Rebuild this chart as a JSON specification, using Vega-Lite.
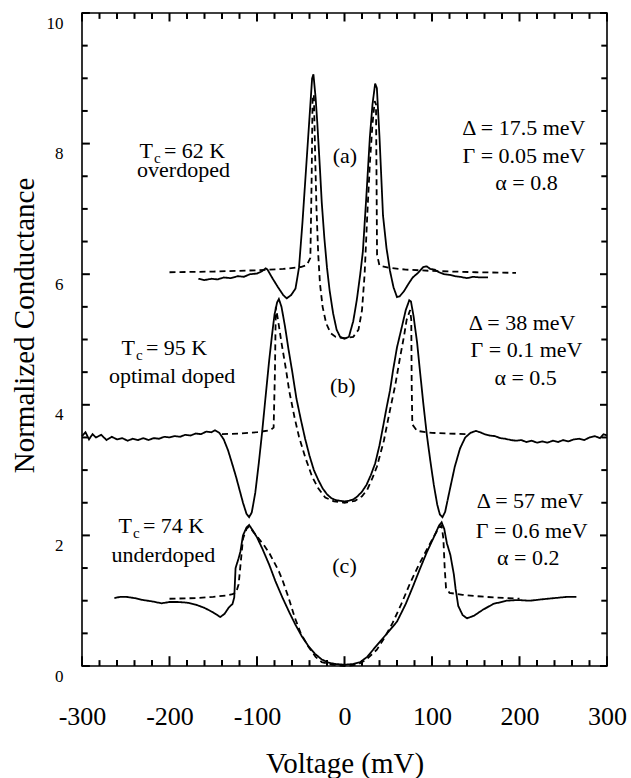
{
"$schema": "https://vega.github.io/schema/vega-lite/v6.json",
"width": 525, "height": 653,
"autosize": {"type": "none"},
"padding": {"left": 82, "top": 13, "right": 24, "bottom": 112},
"background": "white",
"config": {
 "view": {"stroke": "black", "strokeWidth": 1.6},
 "axis": {"domain": false, "ticks": false, "tickSize": 0, "grid": false, "labelFont": "Liberation Serif", "labelColor": "black", "titleFont": "Liberation Serif", "titleFontWeight": "normal", "titleColor": "black"},
 "text": {"font": "Liberation Serif", "fontSize": 22, "color": "black", "baseline": "alphabetic"}
},
"datasets": {
 "xmaj": [{"V":-300},{"V":-200},{"V":-100},{"V":0},{"V":100},{"V":200},{"V":300}],
 "xmin": [{"V":-280},{"V":-260},{"V":-240},{"V":-220},{"V":-180},{"V":-160},{"V":-140},{"V":-120},{"V":-80},{"V":-60},{"V":-40},{"V":-20},{"V":20},{"V":40},{"V":60},{"V":80},{"V":120},{"V":140},{"V":160},{"V":180},{"V":220},{"V":240},{"V":260},{"V":280}],
 "ymaj": [{"G":0},{"G":2},{"G":4},{"G":6},{"G":8},{"G":10}],
 "ymin": [{"G":0.5},{"G":1},{"G":1.5},{"G":2.5},{"G":3},{"G":3.5},{"G":4.5},{"G":5},{"G":5.5},{"G":6.5},{"G":7},{"G":7.5},{"G":8.5},{"G":9},{"G":9.5}],
 "curves": [
  {"c":"a-exp","k":"exp","V":-167,"G":5.93},{"c":"a-exp","k":"exp","V":-160,"G":5.91},{"c":"a-exp","k":"exp","V":-152,"G":5.93},{"c":"a-exp","k":"exp","V":-145,"G":5.92},{"c":"a-exp","k":"exp","V":-138,"G":5.95},{"c":"a-exp","k":"exp","V":-130,"G":5.94},{"c":"a-exp","k":"exp","V":-122,"G":5.97},{"c":"a-exp","k":"exp","V":-115,"G":5.96},{"c":"a-exp","k":"exp","V":-108,"G":6.0},{"c":"a-exp","k":"exp","V":-100,"G":6.01},{"c":"a-exp","k":"exp","V":-95,"G":6.04},{"c":"a-exp","k":"exp","V":-90,"G":6.09},{"c":"a-exp","k":"exp","V":-88,"G":6.07},{"c":"a-exp","k":"exp","V":-82,"G":5.93},{"c":"a-exp","k":"exp","V":-76,"G":5.8},{"c":"a-exp","k":"exp","V":-70,"G":5.68},{"c":"a-exp","k":"exp","V":-66,"G":5.63},{"c":"a-exp","k":"exp","V":-61,"G":5.68},{"c":"a-exp","k":"exp","V":-56,"G":5.78},{"c":"a-exp","k":"exp","V":-52,"G":6.1},{"c":"a-exp","k":"exp","V":-48,"G":6.8},{"c":"a-exp","k":"exp","V":-44,"G":7.6},{"c":"a-exp","k":"exp","V":-40,"G":8.4},{"c":"a-exp","k":"exp","V":-37,"G":9.0},{"c":"a-exp","k":"exp","V":-35.5,"G":9.06},{"c":"a-exp","k":"exp","V":-33,"G":8.7},{"c":"a-exp","k":"exp","V":-31,"G":8.3},{"c":"a-exp","k":"exp","V":-28,"G":7.6},{"c":"a-exp","k":"exp","V":-26,"G":7.1},{"c":"a-exp","k":"exp","V":-23,"G":6.55},{"c":"a-exp","k":"exp","V":-20,"G":6.1},{"c":"a-exp","k":"exp","V":-17,"G":5.75},{"c":"a-exp","k":"exp","V":-13,"G":5.4},{"c":"a-exp","k":"exp","V":-9,"G":5.15},{"c":"a-exp","k":"exp","V":-5,"G":5.04},{"c":"a-exp","k":"exp","V":0,"G":5.01},{"c":"a-exp","k":"exp","V":5,"G":5.04},{"c":"a-exp","k":"exp","V":10,"G":5.28},{"c":"a-exp","k":"exp","V":14,"G":5.6},{"c":"a-exp","k":"exp","V":18,"G":6.0},{"c":"a-exp","k":"exp","V":21,"G":6.35},{"c":"a-exp","k":"exp","V":25,"G":7.2},{"c":"a-exp","k":"exp","V":29,"G":8.1},{"c":"a-exp","k":"exp","V":32,"G":8.6},{"c":"a-exp","k":"exp","V":35,"G":8.92},{"c":"a-exp","k":"exp","V":37,"G":8.85},{"c":"a-exp","k":"exp","V":40,"G":8.1},{"c":"a-exp","k":"exp","V":44,"G":6.9},{"c":"a-exp","k":"exp","V":48,"G":6.4},{"c":"a-exp","k":"exp","V":52,"G":6.05},{"c":"a-exp","k":"exp","V":56,"G":5.8},{"c":"a-exp","k":"exp","V":60,"G":5.65},{"c":"a-exp","k":"exp","V":63,"G":5.66},{"c":"a-exp","k":"exp","V":68,"G":5.74},{"c":"a-exp","k":"exp","V":73,"G":5.85},{"c":"a-exp","k":"exp","V":78,"G":5.95},{"c":"a-exp","k":"exp","V":84,"G":6.02},{"c":"a-exp","k":"exp","V":90,"G":6.11},{"c":"a-exp","k":"exp","V":94,"G":6.12},{"c":"a-exp","k":"exp","V":98,"G":6.08},{"c":"a-exp","k":"exp","V":103,"G":6.07},{"c":"a-exp","k":"exp","V":108,"G":6.03},{"c":"a-exp","k":"exp","V":114,"G":6.0},{"c":"a-exp","k":"exp","V":120,"G":5.99},{"c":"a-exp","k":"exp","V":126,"G":5.97},{"c":"a-exp","k":"exp","V":132,"G":5.96},{"c":"a-exp","k":"exp","V":140,"G":5.94},{"c":"a-exp","k":"exp","V":147,"G":5.96},{"c":"a-exp","k":"exp","V":155,"G":5.95},{"c":"a-exp","k":"exp","V":164,"G":5.95},

  {"c":"a-fit","k":"fit","V":-200,"G":6.03},{"c":"a-fit","k":"fit","V":-150,"G":6.04},{"c":"a-fit","k":"fit","V":-100,"G":6.06},{"c":"a-fit","k":"fit","V":-70,"G":6.08},{"c":"a-fit","k":"fit","V":-50,"G":6.11},{"c":"a-fit","k":"fit","V":-43,"G":6.14},{"c":"a-fit","k":"fit","V":-39,"G":6.25},{"c":"a-fit","k":"fit","V":-37.5,"G":7.5},{"c":"a-fit","k":"fit","V":-36.5,"G":8.7},{"c":"a-fit","k":"fit","V":-35,"G":8.75},{"c":"a-fit","k":"fit","V":-33.5,"G":7.8},{"c":"a-fit","k":"fit","V":-32,"G":7.0},{"c":"a-fit","k":"fit","V":-30,"G":6.3},{"c":"a-fit","k":"fit","V":-28,"G":5.85},{"c":"a-fit","k":"fit","V":-25,"G":5.5},{"c":"a-fit","k":"fit","V":-21,"G":5.25},{"c":"a-fit","k":"fit","V":-16,"G":5.1},{"c":"a-fit","k":"fit","V":-10,"G":5.04},{"c":"a-fit","k":"fit","V":0,"G":5.02},{"c":"a-fit","k":"fit","V":10,"G":5.04},{"c":"a-fit","k":"fit","V":16,"G":5.15},{"c":"a-fit","k":"fit","V":20,"G":5.45},{"c":"a-fit","k":"fit","V":23,"G":6.0},{"c":"a-fit","k":"fit","V":26,"G":6.9},{"c":"a-fit","k":"fit","V":29,"G":7.7},{"c":"a-fit","k":"fit","V":32,"G":8.3},{"c":"a-fit","k":"fit","V":34.5,"G":8.65},{"c":"a-fit","k":"fit","V":36,"G":8.6},{"c":"a-fit","k":"fit","V":36.6,"G":7.5},{"c":"a-fit","k":"fit","V":37.2,"G":6.3},{"c":"a-fit","k":"fit","V":40,"G":6.13},{"c":"a-fit","k":"fit","V":50,"G":6.1},{"c":"a-fit","k":"fit","V":70,"G":6.07},{"c":"a-fit","k":"fit","V":100,"G":6.05},{"c":"a-fit","k":"fit","V":150,"G":6.03},{"c":"a-fit","k":"fit","V":196,"G":6.02},

  {"c":"b-exp","k":"exp","V":-300,"G":3.52},{"c":"b-exp","k":"exp","V":-296,"G":3.58},{"c":"b-exp","k":"exp","V":-292,"G":3.47},{"c":"b-exp","k":"exp","V":-288,"G":3.55},{"c":"b-exp","k":"exp","V":-284,"G":3.5},{"c":"b-exp","k":"exp","V":-278,"G":3.54},{"c":"b-exp","k":"exp","V":-272,"G":3.46},{"c":"b-exp","k":"exp","V":-266,"G":3.51},{"c":"b-exp","k":"exp","V":-260,"G":3.47},{"c":"b-exp","k":"exp","V":-254,"G":3.49},{"c":"b-exp","k":"exp","V":-248,"G":3.45},{"c":"b-exp","k":"exp","V":-242,"G":3.48},{"c":"b-exp","k":"exp","V":-236,"G":3.46},{"c":"b-exp","k":"exp","V":-230,"G":3.49},{"c":"b-exp","k":"exp","V":-224,"G":3.46},{"c":"b-exp","k":"exp","V":-218,"G":3.49},{"c":"b-exp","k":"exp","V":-212,"G":3.48},{"c":"b-exp","k":"exp","V":-206,"G":3.51},{"c":"b-exp","k":"exp","V":-200,"G":3.5},{"c":"b-exp","k":"exp","V":-194,"G":3.52},{"c":"b-exp","k":"exp","V":-188,"G":3.51},{"c":"b-exp","k":"exp","V":-182,"G":3.54},{"c":"b-exp","k":"exp","V":-176,"G":3.53},{"c":"b-exp","k":"exp","V":-170,"G":3.56},{"c":"b-exp","k":"exp","V":-164,"G":3.55},{"c":"b-exp","k":"exp","V":-158,"G":3.59},{"c":"b-exp","k":"exp","V":-152,"G":3.58},{"c":"b-exp","k":"exp","V":-148,"G":3.61},{"c":"b-exp","k":"exp","V":-143,"G":3.57},{"c":"b-exp","k":"exp","V":-138,"G":3.47},{"c":"b-exp","k":"exp","V":-133,"G":3.3},{"c":"b-exp","k":"exp","V":-128,"G":3.08},{"c":"b-exp","k":"exp","V":-124,"G":2.9},{"c":"b-exp","k":"exp","V":-120,"G":2.7},{"c":"b-exp","k":"exp","V":-116,"G":2.5},{"c":"b-exp","k":"exp","V":-112,"G":2.33},{"c":"b-exp","k":"exp","V":-109,"G":2.28},{"c":"b-exp","k":"exp","V":-106,"G":2.35},{"c":"b-exp","k":"exp","V":-102,"G":2.65},{"c":"b-exp","k":"exp","V":-98,"G":3.1},{"c":"b-exp","k":"exp","V":-94,"G":3.6},{"c":"b-exp","k":"exp","V":-90,"G":4.15},{"c":"b-exp","k":"exp","V":-86,"G":4.69},{"c":"b-exp","k":"exp","V":-83,"G":5.05},{"c":"b-exp","k":"exp","V":-80,"G":5.38},{"c":"b-exp","k":"exp","V":-77,"G":5.57},{"c":"b-exp","k":"exp","V":-75,"G":5.62},{"c":"b-exp","k":"exp","V":-72,"G":5.5},{"c":"b-exp","k":"exp","V":-68,"G":5.2},{"c":"b-exp","k":"exp","V":-64,"G":4.85},{"c":"b-exp","k":"exp","V":-60,"G":4.53},{"c":"b-exp","k":"exp","V":-55,"G":4.1},{"c":"b-exp","k":"exp","V":-50,"G":3.78},{"c":"b-exp","k":"exp","V":-45,"G":3.48},{"c":"b-exp","k":"exp","V":-40,"G":3.22},{"c":"b-exp","k":"exp","V":-35,"G":3.0},{"c":"b-exp","k":"exp","V":-30,"G":2.85},{"c":"b-exp","k":"exp","V":-25,"G":2.72},{"c":"b-exp","k":"exp","V":-20,"G":2.63},{"c":"b-exp","k":"exp","V":-15,"G":2.57},{"c":"b-exp","k":"exp","V":-10,"G":2.54},{"c":"b-exp","k":"exp","V":-5,"G":2.53},{"c":"b-exp","k":"exp","V":0,"G":2.52},{"c":"b-exp","k":"exp","V":5,"G":2.53},{"c":"b-exp","k":"exp","V":10,"G":2.55},{"c":"b-exp","k":"exp","V":15,"G":2.6},{"c":"b-exp","k":"exp","V":20,"G":2.67},{"c":"b-exp","k":"exp","V":25,"G":2.77},{"c":"b-exp","k":"exp","V":30,"G":2.92},{"c":"b-exp","k":"exp","V":35,"G":3.1},{"c":"b-exp","k":"exp","V":40,"G":3.38},{"c":"b-exp","k":"exp","V":44,"G":3.66},{"c":"b-exp","k":"exp","V":48,"G":3.95},{"c":"b-exp","k":"exp","V":52,"G":4.22},{"c":"b-exp","k":"exp","V":55.5,"G":4.53},{"c":"b-exp","k":"exp","V":60,"G":4.88},{"c":"b-exp","k":"exp","V":65.5,"G":5.19},{"c":"b-exp","k":"exp","V":70,"G":5.45},{"c":"b-exp","k":"exp","V":74,"G":5.6},{"c":"b-exp","k":"exp","V":76,"G":5.58},{"c":"b-exp","k":"exp","V":79,"G":5.35},{"c":"b-exp","k":"exp","V":83,"G":4.95},{"c":"b-exp","k":"exp","V":86,"G":4.55},{"c":"b-exp","k":"exp","V":90,"G":4.03},{"c":"b-exp","k":"exp","V":94,"G":3.55},{"c":"b-exp","k":"exp","V":98,"G":3.15},{"c":"b-exp","k":"exp","V":102,"G":2.78},{"c":"b-exp","k":"exp","V":106,"G":2.47},{"c":"b-exp","k":"exp","V":109,"G":2.32},{"c":"b-exp","k":"exp","V":112,"G":2.28},{"c":"b-exp","k":"exp","V":115,"G":2.36},{"c":"b-exp","k":"exp","V":118,"G":2.55},{"c":"b-exp","k":"exp","V":121,"G":2.74},{"c":"b-exp","k":"exp","V":126,"G":3.05},{"c":"b-exp","k":"exp","V":132,"G":3.33},{"c":"b-exp","k":"exp","V":138,"G":3.5},{"c":"b-exp","k":"exp","V":144,"G":3.57},{"c":"b-exp","k":"exp","V":150,"G":3.6},{"c":"b-exp","k":"exp","V":155,"G":3.58},{"c":"b-exp","k":"exp","V":160,"G":3.55},{"c":"b-exp","k":"exp","V":166,"G":3.53},{"c":"b-exp","k":"exp","V":172,"G":3.52},{"c":"b-exp","k":"exp","V":178,"G":3.49},{"c":"b-exp","k":"exp","V":184,"G":3.48},{"c":"b-exp","k":"exp","V":190,"G":3.46},{"c":"b-exp","k":"exp","V":196,"G":3.45},{"c":"b-exp","k":"exp","V":202,"G":3.46},{"c":"b-exp","k":"exp","V":208,"G":3.43},{"c":"b-exp","k":"exp","V":214,"G":3.45},{"c":"b-exp","k":"exp","V":220,"G":3.42},{"c":"b-exp","k":"exp","V":226,"G":3.44},{"c":"b-exp","k":"exp","V":232,"G":3.42},{"c":"b-exp","k":"exp","V":238,"G":3.45},{"c":"b-exp","k":"exp","V":244,"G":3.43},{"c":"b-exp","k":"exp","V":250,"G":3.46},{"c":"b-exp","k":"exp","V":256,"G":3.44},{"c":"b-exp","k":"exp","V":262,"G":3.47},{"c":"b-exp","k":"exp","V":268,"G":3.48},{"c":"b-exp","k":"exp","V":274,"G":3.46},{"c":"b-exp","k":"exp","V":280,"G":3.5},{"c":"b-exp","k":"exp","V":286,"G":3.52},{"c":"b-exp","k":"exp","V":292,"G":3.49},{"c":"b-exp","k":"exp","V":296,"G":3.55},{"c":"b-exp","k":"exp","V":300,"G":3.53},

  {"c":"b-fit","k":"fit","V":-140,"G":3.55},{"c":"b-fit","k":"fit","V":-120,"G":3.56},{"c":"b-fit","k":"fit","V":-100,"G":3.58},{"c":"b-fit","k":"fit","V":-85,"G":3.61},{"c":"b-fit","k":"fit","V":-81,"G":3.65},{"c":"b-fit","k":"fit","V":-79.5,"G":4.5},{"c":"b-fit","k":"fit","V":-78.5,"G":5.5},{"c":"b-fit","k":"fit","V":-76,"G":5.3},{"c":"b-fit","k":"fit","V":-72,"G":4.95},{"c":"b-fit","k":"fit","V":-67,"G":4.55},{"c":"b-fit","k":"fit","V":-63,"G":4.2},{"c":"b-fit","k":"fit","V":-57,"G":3.8},{"c":"b-fit","k":"fit","V":-52,"G":3.51},{"c":"b-fit","k":"fit","V":-45,"G":3.2},{"c":"b-fit","k":"fit","V":-37,"G":2.9},{"c":"b-fit","k":"fit","V":-30,"G":2.72},{"c":"b-fit","k":"fit","V":-22,"G":2.58},{"c":"b-fit","k":"fit","V":-12,"G":2.52},{"c":"b-fit","k":"fit","V":0,"G":2.5},{"c":"b-fit","k":"fit","V":12,"G":2.53},{"c":"b-fit","k":"fit","V":20,"G":2.6},{"c":"b-fit","k":"fit","V":26,"G":2.7},{"c":"b-fit","k":"fit","V":32,"G":2.88},{"c":"b-fit","k":"fit","V":37,"G":3.05},{"c":"b-fit","k":"fit","V":45,"G":3.45},{"c":"b-fit","k":"fit","V":52,"G":3.92},{"c":"b-fit","k":"fit","V":58,"G":4.3},{"c":"b-fit","k":"fit","V":63,"G":4.69},{"c":"b-fit","k":"fit","V":68,"G":5.05},{"c":"b-fit","k":"fit","V":71,"G":5.3},{"c":"b-fit","k":"fit","V":75,"G":5.45},{"c":"b-fit","k":"fit","V":76.3,"G":5.3},{"c":"b-fit","k":"fit","V":76.8,"G":4.3},{"c":"b-fit","k":"fit","V":77.5,"G":3.7},{"c":"b-fit","k":"fit","V":83,"G":3.6},{"c":"b-fit","k":"fit","V":100,"G":3.57},{"c":"b-fit","k":"fit","V":120,"G":3.56},{"c":"b-fit","k":"fit","V":140,"G":3.55},

  {"c":"c-exp","k":"exp","V":-263,"G":1.04},{"c":"c-exp","k":"exp","V":-256,"G":1.06},{"c":"c-exp","k":"exp","V":-250,"G":1.06},{"c":"c-exp","k":"exp","V":-240,"G":1.04},{"c":"c-exp","k":"exp","V":-230,"G":1.01},{"c":"c-exp","k":"exp","V":-220,"G":0.99},{"c":"c-exp","k":"exp","V":-209,"G":0.96},{"c":"c-exp","k":"exp","V":-200,"G":0.98},{"c":"c-exp","k":"exp","V":-190,"G":0.98},{"c":"c-exp","k":"exp","V":-180,"G":0.97},{"c":"c-exp","k":"exp","V":-170,"G":0.94},{"c":"c-exp","k":"exp","V":-160,"G":0.89},{"c":"c-exp","k":"exp","V":-150,"G":0.82},{"c":"c-exp","k":"exp","V":-142,"G":0.75},{"c":"c-exp","k":"exp","V":-137,"G":0.8},{"c":"c-exp","k":"exp","V":-132,"G":0.9},{"c":"c-exp","k":"exp","V":-128,"G":0.95},{"c":"c-exp","k":"exp","V":-126,"G":1.05},{"c":"c-exp","k":"exp","V":-124.5,"G":1.5},{"c":"c-exp","k":"exp","V":-121,"G":1.65},{"c":"c-exp","k":"exp","V":-119,"G":1.75},{"c":"c-exp","k":"exp","V":-116,"G":2.0},{"c":"c-exp","k":"exp","V":-112,"G":2.12},{"c":"c-exp","k":"exp","V":-109,"G":2.16},{"c":"c-exp","k":"exp","V":-105,"G":2.08},{"c":"c-exp","k":"exp","V":-100,"G":1.97},{"c":"c-exp","k":"exp","V":-94,"G":1.8},{"c":"c-exp","k":"exp","V":-86,"G":1.55},{"c":"c-exp","k":"exp","V":-79,"G":1.3},{"c":"c-exp","k":"exp","V":-71,"G":1.05},{"c":"c-exp","k":"exp","V":-63,"G":0.82},{"c":"c-exp","k":"exp","V":-56,"G":0.63},{"c":"c-exp","k":"exp","V":-49,"G":0.46},{"c":"c-exp","k":"exp","V":-41,"G":0.3},{"c":"c-exp","k":"exp","V":-34,"G":0.19},{"c":"c-exp","k":"exp","V":-26,"G":0.1},{"c":"c-exp","k":"exp","V":-18,"G":0.05},{"c":"c-exp","k":"exp","V":-10,"G":0.03},{"c":"c-exp","k":"exp","V":0,"G":0.02},{"c":"c-exp","k":"exp","V":10,"G":0.03},{"c":"c-exp","k":"exp","V":18,"G":0.06},{"c":"c-exp","k":"exp","V":26,"G":0.14},{"c":"c-exp","k":"exp","V":34,"G":0.27},{"c":"c-exp","k":"exp","V":41,"G":0.38},{"c":"c-exp","k":"exp","V":50,"G":0.52},{"c":"c-exp","k":"exp","V":60,"G":0.68},{"c":"c-exp","k":"exp","V":70,"G":0.95},{"c":"c-exp","k":"exp","V":78,"G":1.21},{"c":"c-exp","k":"exp","V":86,"G":1.48},{"c":"c-exp","k":"exp","V":94,"G":1.74},{"c":"c-exp","k":"exp","V":102,"G":1.97},{"c":"c-exp","k":"exp","V":108,"G":2.15},{"c":"c-exp","k":"exp","V":111,"G":2.2},{"c":"c-exp","k":"exp","V":114,"G":2.1},{"c":"c-exp","k":"exp","V":117,"G":1.88},{"c":"c-exp","k":"exp","V":121,"G":1.7},{"c":"c-exp","k":"exp","V":123,"G":1.55},{"c":"c-exp","k":"exp","V":125,"G":1.4},{"c":"c-exp","k":"exp","V":127,"G":1.18},{"c":"c-exp","k":"exp","V":130,"G":0.92},{"c":"c-exp","k":"exp","V":135,"G":0.78},{"c":"c-exp","k":"exp","V":140,"G":0.73},{"c":"c-exp","k":"exp","V":148,"G":0.77},{"c":"c-exp","k":"exp","V":158,"G":0.86},{"c":"c-exp","k":"exp","V":170,"G":0.95},{"c":"c-exp","k":"exp","V":185,"G":1.0},{"c":"c-exp","k":"exp","V":198,"G":1.01},{"c":"c-exp","k":"exp","V":212,"G":1.0},{"c":"c-exp","k":"exp","V":225,"G":1.02},{"c":"c-exp","k":"exp","V":240,"G":1.04},{"c":"c-exp","k":"exp","V":255,"G":1.06},{"c":"c-exp","k":"exp","V":265,"G":1.06},

  {"c":"c-fit","k":"fit","V":-200,"G":1.03},{"c":"c-fit","k":"fit","V":-170,"G":1.04},{"c":"c-fit","k":"fit","V":-150,"G":1.06},{"c":"c-fit","k":"fit","V":-135,"G":1.08},{"c":"c-fit","k":"fit","V":-128,"G":1.1},{"c":"c-fit","k":"fit","V":-124,"G":1.12},{"c":"c-fit","k":"fit","V":-121,"G":1.25},{"c":"c-fit","k":"fit","V":-118.5,"G":1.6},{"c":"c-fit","k":"fit","V":-116,"G":1.95},{"c":"c-fit","k":"fit","V":-112,"G":2.1},{"c":"c-fit","k":"fit","V":-109,"G":2.14},{"c":"c-fit","k":"fit","V":-104,"G":2.05},{"c":"c-fit","k":"fit","V":-98,"G":1.95},{"c":"c-fit","k":"fit","V":-92,"G":1.85},{"c":"c-fit","k":"fit","V":-86,"G":1.73},{"c":"c-fit","k":"fit","V":-80,"G":1.58},{"c":"c-fit","k":"fit","V":-75,"G":1.45},{"c":"c-fit","k":"fit","V":-71,"G":1.32},{"c":"c-fit","k":"fit","V":-64,"G":1.05},{"c":"c-fit","k":"fit","V":-57,"G":0.75},{"c":"c-fit","k":"fit","V":-50,"G":0.5},{"c":"c-fit","k":"fit","V":-41,"G":0.29},{"c":"c-fit","k":"fit","V":-33,"G":0.14},{"c":"c-fit","k":"fit","V":-26,"G":0.06},{"c":"c-fit","k":"fit","V":-15,"G":0.02},{"c":"c-fit","k":"fit","V":0,"G":0.0},{"c":"c-fit","k":"fit","V":15,"G":0.02},{"c":"c-fit","k":"fit","V":25,"G":0.1},{"c":"c-fit","k":"fit","V":37,"G":0.25},{"c":"c-fit","k":"fit","V":46,"G":0.44},{"c":"c-fit","k":"fit","V":55,"G":0.66},{"c":"c-fit","k":"fit","V":65,"G":0.95},{"c":"c-fit","k":"fit","V":75,"G":1.27},{"c":"c-fit","k":"fit","V":85,"G":1.55},{"c":"c-fit","k":"fit","V":94,"G":1.78},{"c":"c-fit","k":"fit","V":102,"G":1.98},{"c":"c-fit","k":"fit","V":108,"G":2.12},{"c":"c-fit","k":"fit","V":111,"G":2.15},{"c":"c-fit","k":"fit","V":113,"G":1.95},{"c":"c-fit","k":"fit","V":114.5,"G":1.5},{"c":"c-fit","k":"fit","V":116,"G":1.2},{"c":"c-fit","k":"fit","V":120,"G":1.12},{"c":"c-fit","k":"fit","V":135,"G":1.09},{"c":"c-fit","k":"fit","V":150,"G":1.07},{"c":"c-fit","k":"fit","V":170,"G":1.05},{"c":"c-fit","k":"fit","V":200,"G":1.03}
 ],
 "labels": [
  {"V":-184,"G":7.49,"t":"overdoped"},
  {"V":-197,"G":4.33,"t":"optimal doped"},
  {"V":-207,"G":1.59,"t":"underdoped"},
  {"V":0.5,"G":7.7,"t":"(a)"},
  {"V":-2,"G":4.18,"t":"(b)"},
  {"V":0,"G":1.42,"t":"(c)"},
  {"V":205,"G":8.13,"t":"Δ = 17.5 meV"},
  {"V":205,"G":7.70,"t":"Γ = 0.05 meV"},
  {"V":208,"G":7.29,"t":"α = 0.8"},
  {"V":203,"G":5.15,"t":"Δ = 38 meV"},
  {"V":208,"G":4.73,"t":"Γ = 0.1 meV"},
  {"V":207,"G":4.30,"t":"α = 0.5"},
  {"V":212,"G":2.42,"t":"Δ = 57 meV"},
  {"V":214,"G":1.96,"t":"Γ = 0.6 meV"},
  {"V":210,"G":1.55,"t":"α = 0.2"}
 ],
 "tc": [
  {"V":-219,"G":7.78,"rest":"= 62 K"},
  {"V":-239.5,"G":4.76,"rest":"= 95 K"},
  {"V":-243,"G":2.04,"rest":"= 74 K"}
 ]
},
"resolve": {"axis": {"x": "independent", "y": "independent"}},
"layer": [
 {
  "data": {"name": "curves"},
  "mark": {"type": "line", "color": "black", "strokeWidth": 1.8},
  "encoding": {
   "x": {"field": "V", "type": "quantitative", "scale": {"domain": [-300, 300], "nice": false},
    "axis": {"orient": "bottom", "title": "Voltage (mV)", "titleFontSize": 29, "titleY": 106, "titleBaseline": "alphabetic",
     "values": [-300,-200,-100,0,100,200,300],
     "labelExpr": "datum.value < 0 ? '-' + abs(datum.value) : '' + datum.value",
     "labelFontSize": 26, "labelPadding": 37, "labelFlush": false, "labelOverlap": false}},
   "y": {"field": "G", "type": "quantitative", "scale": {"domain": [0, 10], "nice": false, "zero": false},
    "axis": {"orient": "left", "title": "Normalized Conductance", "titleFontSize": 29, "titleX": -49, "titleY": 312, "titleBaseline": "alphabetic", "titleAlign": "center", "titleAngle": 270,
     "values": [0,2,4,6,8,10],
     "labelExpr": "'' + datum.value",
     "labelFontSize": 17, "labelPadding": 19, "labelOffset": 10, "labelFlush": false, "labelOverlap": false}},
   "detail": {"field": "c", "type": "nominal"},
   "strokeDash": {"field": "k", "type": "nominal", "scale": {"domain": ["exp", "fit"], "range": [[1, 0], [6, 4]]}, "legend": null}
  }
 },
 {
  "data": {"name": "xmaj"},
  "mark": {"type": "rule", "color": "black", "strokeWidth": 2},
  "encoding": {
   "x": {"field": "V", "type": "quantitative", "scale": {"domain": [-300, 300], "nice": false}, "axis": null},
   "y": {"datum": 0, "type": "quantitative", "scale": {"domain": [0, 10], "nice": false, "zero": false}, "axis": null},
   "y2": {"datum": 0.15}
  }
 },
 {
  "data": {"name": "xmin"},
  "mark": {"type": "rule", "color": "black", "strokeWidth": 2},
  "encoding": {
   "x": {"field": "V", "type": "quantitative", "scale": {"domain": [-300, 300], "nice": false}, "axis": null},
   "y": {"datum": 0, "type": "quantitative", "scale": {"domain": [0, 10], "nice": false, "zero": false}, "axis": null},
   "y2": {"datum": 0.09}
  }
 },
 {
  "data": {"name": "xmaj"},
  "mark": {"type": "rule", "color": "black", "strokeWidth": 2},
  "encoding": {
   "x": {"field": "V", "type": "quantitative", "scale": {"domain": [-300, 300], "nice": false}, "axis": null},
   "y": {"datum": 10, "type": "quantitative", "scale": {"domain": [0, 10], "nice": false, "zero": false}, "axis": null},
   "y2": {"datum": 9.87}
  }
 },
 {
  "data": {"name": "xmin"},
  "mark": {"type": "rule", "color": "black", "strokeWidth": 2},
  "encoding": {
   "x": {"field": "V", "type": "quantitative", "scale": {"domain": [-300, 300], "nice": false}, "axis": null},
   "y": {"datum": 10, "type": "quantitative", "scale": {"domain": [0, 10], "nice": false, "zero": false}, "axis": null},
   "y2": {"datum": 9.91}
  }
 },
 {
  "data": {"name": "ymaj"},
  "mark": {"type": "rule", "color": "black", "strokeWidth": 2},
  "encoding": {
   "y": {"field": "G", "type": "quantitative", "scale": {"domain": [0, 10], "nice": false, "zero": false}, "axis": null},
   "x": {"datum": -300, "type": "quantitative", "scale": {"domain": [-300, 300], "nice": false}, "axis": null},
   "x2": {"datum": -291}
  }
 },
 {
  "data": {"name": "ymin"},
  "mark": {"type": "rule", "color": "black", "strokeWidth": 2},
  "encoding": {
   "y": {"field": "G", "type": "quantitative", "scale": {"domain": [0, 10], "nice": false, "zero": false}, "axis": null},
   "x": {"datum": -300, "type": "quantitative", "scale": {"domain": [-300, 300], "nice": false}, "axis": null},
   "x2": {"datum": -293.5}
  }
 },
 {
  "data": {"name": "ymaj"},
  "mark": {"type": "rule", "color": "black", "strokeWidth": 2},
  "encoding": {
   "y": {"field": "G", "type": "quantitative", "scale": {"domain": [0, 10], "nice": false, "zero": false}, "axis": null},
   "x": {"datum": 300, "type": "quantitative", "scale": {"domain": [-300, 300], "nice": false}, "axis": null},
   "x2": {"datum": 292}
  }
 },
 {
  "data": {"name": "ymin"},
  "mark": {"type": "rule", "color": "black", "strokeWidth": 2},
  "encoding": {
   "y": {"field": "G", "type": "quantitative", "scale": {"domain": [0, 10], "nice": false, "zero": false}, "axis": null},
   "x": {"datum": 300, "type": "quantitative", "scale": {"domain": [-300, 300], "nice": false}, "axis": null},
   "x2": {"datum": 293.5}
  }
 },
 {
  "data": {"name": "tc"},
  "mark": {"type": "text", "text": "T", "align": "right"},
  "encoding": {
   "x": {"field": "V", "type": "quantitative", "scale": {"domain": [-300, 300], "nice": false}, "axis": null},
   "y": {"field": "G", "type": "quantitative", "scale": {"domain": [0, 10], "nice": false, "zero": false}, "axis": null}
  }
 },
 {
  "data": {"name": "tc"},
  "mark": {"type": "text", "text": "c", "align": "left", "dx": 1, "dy": 5, "fontSize": 15},
  "encoding": {
   "x": {"field": "V", "type": "quantitative", "scale": {"domain": [-300, 300], "nice": false}, "axis": null},
   "y": {"field": "G", "type": "quantitative", "scale": {"domain": [0, 10], "nice": false, "zero": false}, "axis": null}
  }
 },
 {
  "data": {"name": "tc"},
  "mark": {"type": "text", "align": "left", "dx": 11},
  "encoding": {
   "x": {"field": "V", "type": "quantitative", "scale": {"domain": [-300, 300], "nice": false}, "axis": null},
   "y": {"field": "G", "type": "quantitative", "scale": {"domain": [0, 10], "nice": false, "zero": false}, "axis": null},
   "text": {"field": "rest", "type": "nominal"}
  }
 },
 {
  "data": {"name": "labels"},
  "mark": {"type": "text", "align": "center"},
  "encoding": {
   "x": {"field": "V", "type": "quantitative", "scale": {"domain": [-300, 300], "nice": false}, "axis": null},
   "y": {"field": "G", "type": "quantitative", "scale": {"domain": [0, 10], "nice": false, "zero": false}, "axis": null},
   "text": {"field": "t", "type": "nominal"}
  }
 }
]
}
